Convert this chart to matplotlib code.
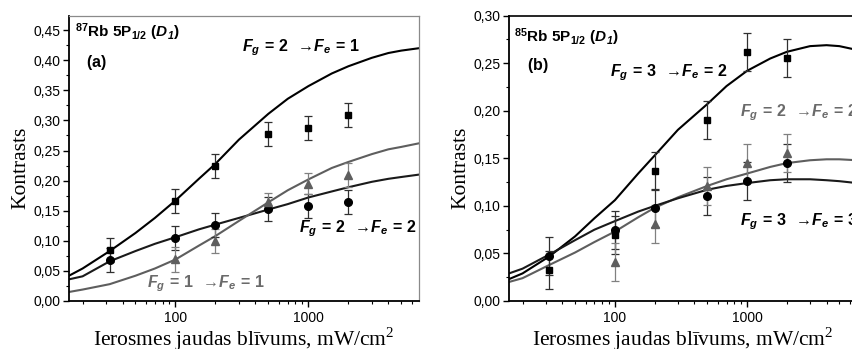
import matplotlib
matplotlib.use('Agg')
import matplotlib.pyplot as plt
from matplotlib.ticker import FixedLocator, FuncFormatter, NullFormatter, MultipleLocator

plt.rcParams['mathtext.fontset'] = 'custom'
plt.rcParams['mathtext.rm'] = 'Liberation Serif'
plt.rcParams['mathtext.it'] = 'Liberation Sans:italic:bold'
plt.rcParams['mathtext.bf'] = 'Liberation Sans:bold'
plt.rcParams['mathtext.bfit'] = 'Liberation Sans:italic:bold'

# ---------------- data ----------------
x_meas = [32, 100, 200, 500, 1000, 2000]
x_meas_tri = [100, 200, 500, 1000, 2000]

# panel (a) 87Rb
a_sq = [0.084, 0.166, 0.224, 0.278, 0.288, 0.309]
a_sq_err = [0.02, 0.02, 0.02, 0.02, 0.02, 0.02]
a_circ = [0.068, 0.105, 0.127, 0.153, 0.158, 0.164]
a_circ_err = [0.02, 0.02, 0.02, 0.02, 0.02, 0.02]
a_tri = [0.069, 0.100, 0.165, 0.195, 0.210]
a_tri_err = [0.02, 0.02, 0.015, 0.018, 0.02]

# panel (b) 85Rb
b_sq = [0.033, 0.069, 0.137, 0.190, 0.262, 0.256]
b_sq_err = [0.02, 0.02, 0.02, 0.02, 0.02, 0.02]
b_circ = [0.047, 0.075, 0.098, 0.110, 0.126, 0.145]
b_circ_err = [0.02, 0.02, 0.02, 0.02, 0.02, 0.02]
b_tri = [0.041, 0.081, 0.121, 0.145, 0.156]
b_tri_err = [0.02, 0.02, 0.02, 0.02, 0.02]

# theory curves
x_curve = [15.8, 20, 32, 50, 70, 100, 150, 200, 300, 500, 700, 1000,
           1500, 2000, 3000, 4000, 5000, 6800]
a_curve_21 = [0.042, 0.054, 0.083, 0.113, 0.138, 0.167, 0.203, 0.228, 0.268,
              0.311, 0.336, 0.357, 0.378, 0.390, 0.404, 0.412, 0.416, 0.420]
a_curve_22 = [0.036, 0.041, 0.066, 0.083, 0.095, 0.106, 0.119, 0.127, 0.138,
              0.152, 0.161, 0.172, 0.182, 0.189, 0.198, 0.203, 0.206, 0.210]
a_curve_11 = [0.015, 0.019, 0.028, 0.042, 0.054, 0.069, 0.092, 0.108, 0.133,
              0.164, 0.184, 0.202, 0.221, 0.231, 0.244, 0.252, 0.256, 0.262]
b_curve_32 = [0.023, 0.029, 0.047, 0.068, 0.087, 0.106, 0.134, 0.153, 0.180,
              0.207, 0.226, 0.242, 0.255, 0.262, 0.268, 0.269, 0.268, 0.264]
b_curve_22 = [0.020, 0.024, 0.038, 0.051, 0.062, 0.073, 0.088, 0.098, 0.109,
              0.121, 0.128, 0.134, 0.141, 0.145, 0.148, 0.149, 0.149, 0.148]
b_curve_33 = [0.029, 0.034, 0.049, 0.064, 0.075, 0.084, 0.094, 0.100, 0.108,
              0.117, 0.121, 0.124, 0.127, 0.128, 0.128, 0.127, 0.126, 0.124]

x_ticks = [100, 1000]
x_tick_labels = ['100', '1000']

GRAY = '#5e5e5e'
GRAY_TXT = '#6a6a6a'
GRAY_ERR = '#808080'
ARROW = "\u2192"
ANN = 11.5

W, H = 852, 349
fig = plt.figure(figsize=(W / 100, H / 100), dpi=100)

axA = fig.add_axes([69 / W, 48 / H, 350 / W, 285 / H])
axB = fig.add_axes([509 / W, 48 / H, 348 / W, 285.3 / H])


def style_axis(ax, ymax, gray_frame):
    ax.set_xscale('log')
    ax.set_xlim(15.8, 6800)
    ax.set_ylim(0, ymax)
    ax.xaxis.set_major_locator(FixedLocator(x_ticks))
    ax.xaxis.set_major_formatter(FuncFormatter(
        lambda v, p: x_tick_labels[x_ticks.index(round(v))] if round(v) in x_ticks else ''))
    minors = [m * d for d in (10, 100, 1000) for m in range(2, 10)]
    ax.xaxis.set_minor_locator(FixedLocator(minors))
    ax.xaxis.set_minor_formatter(NullFormatter())
    ax.yaxis.set_major_locator(MultipleLocator(0.05))
    ax.yaxis.set_minor_locator(MultipleLocator(0.025))
    ax.yaxis.set_major_formatter(FuncFormatter(lambda v, p: f"{v:.2f}".replace('.', ',')))
    ax.tick_params(which='major', direction='out', length=4, width=1.0,
                   top=False, right=False)
    ax.tick_params(axis='y', which='major', pad=2)
    ax.tick_params(axis='x', which='major', pad=3.2)
    ax.tick_params(which='minor', direction='out', length=2.5, width=0.8,
                   top=False, right=False)
    for lab in ax.get_xticklabels() + ax.get_yticklabels():
        lab.set_fontfamily('Liberation Sans')
        lab.set_fontsize(10)
    ax.spines['left'].set_linewidth(1.3)
    ax.spines['bottom'].set_linewidth(1.3)
    if gray_frame:
        ax.spines['top'].set_color('#8a8a8a')
        ax.spines['right'].set_color('#8a8a8a')
        ax.spines['top'].set_linewidth(0.9)
        ax.spines['right'].set_linewidth(0.9)
    else:
        ax.spines['top'].set_linewidth(1.2)
    ax.set_ylabel('Kontrasts', fontfamily='Liberation Serif', fontsize=15.5)
    ax.yaxis.set_label_coords(-0.11, 0.468)
    ax.set_xlabel('Ierosmes jaudas blīvums, mW/cm$^2$', fontfamily='Liberation Serif',
                  fontsize=15.5)
    ax.xaxis.set_label_coords(0.5, -0.087)


def err(ax, x, y, e, marker, col, ecol, ms):
    ax.errorbar(x, y, yerr=e, fmt=marker, color=col, ms=ms, ecolor=ecol,
                elinewidth=0.9, capsize=2.6, capthick=0.9, zorder=3)


def lbl(a, b, c, d):
    return (r"$\mathbfit{F}_{\mathbfit{" + a + r"}}\mathbf{\,=\," + b +
            r"\ \ " + ARROW + r"}\mathbfit{F}_{\mathbfit{" + c + r"}}\mathbf{\,=\," + d + r"}$")


# ---------------- panel (a) ----------------
style_axis(axA, 0.4735, True)
axA.plot(x_curve, a_curve_21, color='black', lw=1.5, zorder=2)
axA.plot(x_curve, a_curve_22, color='#1a1a1a', lw=1.5, zorder=2)
axA.plot(x_curve, a_curve_11, color=GRAY, lw=1.5, zorder=2)
err(axA, x_meas, a_sq, a_sq_err, 's', 'black', '#303030', 5)
err(axA, x_meas, a_circ, a_circ_err, 'o', 'black', '#303030', 5.5)
err(axA, x_meas_tri, a_tri, a_tri_err, '^', GRAY, GRAY_ERR, 5.5)

axA.text(0.017, 0.925, r"$^{\mathbf{87}}\mathbf{Rb\ 5P}_{\mathbf{1/2}}\mathbf{\ (}\mathbfit{D}_{\mathbfit{1}}\mathbf{)}$",
         transform=axA.transAxes, fontsize=11, va='baseline', ha='left')
axA.text(0.05, 0.822, r"$\mathbf{(a)}$", transform=axA.transAxes, fontsize=11.5,
         va='baseline', ha='left')
axA.text(0.494, 0.877, lbl('g', '2', 'e', '1'), transform=axA.transAxes,
         fontsize=ANN, va='baseline', ha='left', color='black')
axA.text(0.657, 0.241, lbl('g', '2', 'e', '2'), transform=axA.transAxes,
         fontsize=ANN, va='baseline', ha='left', color='black')
axA.text(0.223, 0.048, lbl('g', '1', 'e', '1'), transform=axA.transAxes,
         fontsize=ANN, va='baseline', ha='left', color=GRAY_TXT)

# ---------------- panel (b) ----------------
style_axis(axB, 0.30, False)
axB.plot(x_curve, b_curve_32, color='black', lw=1.5, zorder=2)
axB.plot(x_curve, b_curve_22, color=GRAY, lw=1.5, zorder=2)
axB.plot(x_curve, b_curve_33, color='#1a1a1a', lw=1.5, zorder=2)
err(axB, x_meas, b_sq, b_sq_err, 's', 'black', '#303030', 5)
err(axB, x_meas, b_circ, b_circ_err, 'o', 'black', '#303030', 5.5)
err(axB, x_meas_tri, b_tri, b_tri_err, '^', GRAY, GRAY_ERR, 5.5)

axB.text(0.014, 0.909, r"$^{\mathbf{85}}\mathbf{Rb\ 5P}_{\mathbf{1/2}}\mathbf{\ (}\mathbfit{D}_{\mathbfit{1}}\mathbf{)}$",
         transform=axB.transAxes, fontsize=11, va='baseline', ha='left')
axB.text(0.051, 0.81, r"$\mathbf{(b)}$", transform=axB.transAxes, fontsize=11.5,
         va='baseline', ha='left')
axB.text(0.29, 0.789, lbl('g', '3', 'e', '2'), transform=axB.transAxes,
         fontsize=ANN, va='baseline', ha='left', color='black')
axB.text(0.664, 0.646, lbl('g', '2', 'e', '2'), transform=axB.transAxes,
         fontsize=ANN, va='baseline', ha='left', color=GRAY_TXT)
axB.text(0.664, 0.266, lbl('g', '3', 'e', '3'), transform=axB.transAxes,
         fontsize=ANN, va='baseline', ha='left', color='black')

fig.savefig('out.png', dpi=100)
